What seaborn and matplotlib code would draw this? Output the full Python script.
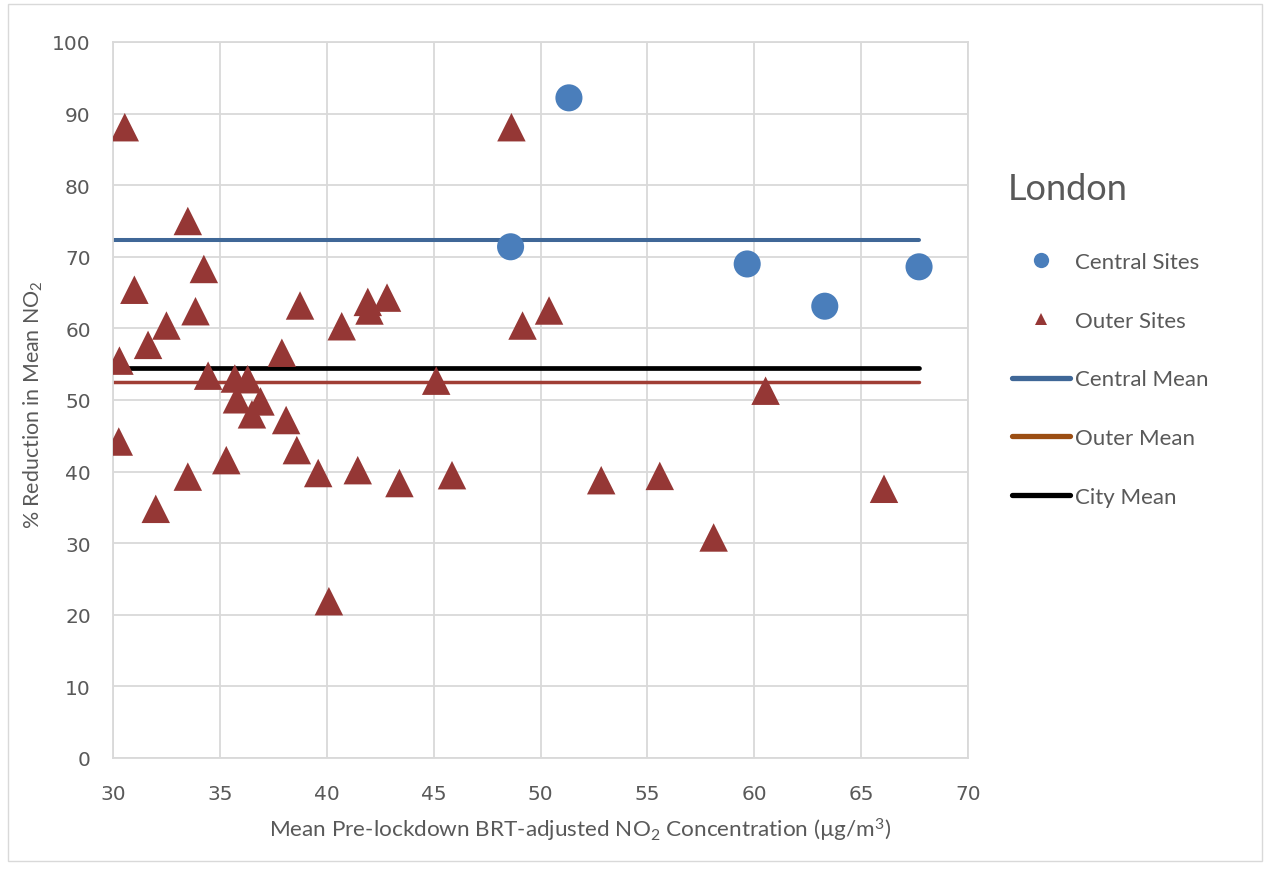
import matplotlib
matplotlib.use("Agg")
import matplotlib.pyplot as plt
import seaborn as sns
from matplotlib.lines import Line2D
from matplotlib.patches import Rectangle

# Central monitoring sites
central_x = [51.33, 48.60, 59.67, 63.30, 67.71]
central_y = [92.2, 71.4, 69.0, 63.1, 68.6]

# Outer monitoring sites
outer_x = [30.55, 48.64, 33.50, 34.25, 31.00, 33.86, 38.75, 41.92, 42.00, 42.82,
           40.70, 32.50, 49.16, 50.40, 31.64, 37.90, 30.30, 34.45, 35.70, 36.30,
           45.12, 35.80, 36.90, 36.50, 38.10, 38.60, 30.27, 35.30, 39.60, 41.45,
           43.40, 45.86, 33.50, 32.00, 40.10, 52.84, 55.58, 58.10, 60.53, 66.07]
outer_y = [88.1, 88.1, 75.0, 68.3, 65.4, 62.4, 63.2, 63.7, 62.5, 64.3,
           60.3, 60.4, 60.4, 62.5, 57.7, 56.6, 55.5, 53.4, 53.0, 52.9,
           52.7, 50.1, 49.8, 48.0, 47.2, 43.0, 44.2, 41.6, 39.8, 40.2,
           38.4, 39.5, 39.3, 34.8, 21.9, 38.8, 39.4, 30.8, 51.3, 37.6]

# Group means
central_mean = 72.4
outer_mean = 52.5
city_mean = 54.4

x_ticks = [30, 35, 40, 45, 50, 55, 60, 65, 70]
y_ticks = [0, 10, 20, 30, 40, 50, 60, 70, 80, 90, 100]

sns.set_theme(style="white")
plt.rcParams["font.family"] = ["Lato", "DejaVu Sans"]
plt.rcParams["mathtext.default"] = "regular"

text_grey = "#595959"
grid_grey = "#D9D9D9"
c_central = "#4A7EBB"
c_outer = "#953735"
c_central_mean = "#3F6797"
c_outer_mean = "#A03E35"
c_outer_mean_key = "#9B4E13"

W, H = 1264, 870
fig = plt.figure(figsize=(W / 100, H / 100), dpi=100)
fig.patch.set_facecolor("white")
ax = fig.add_axes([113 / W, 1 - 759 / H, 855 / W, 716 / H])

x_lo, x_hi = x_ticks[0], x_ticks[-1]
x_end = max(max(central_x), max(outer_x))

# Mean lines across the range of the sites
for val, col, lw in [(central_mean, c_central_mean, 2.9),
                     (outer_mean, c_outer_mean, 2.5),
                     (city_mean, "black", 3.4)]:
    sns.lineplot(x=[x_lo, x_end], y=[val, val], color=col, linewidth=lw,
                 solid_capstyle="round", ax=ax, legend=False, zorder=2)

sns.scatterplot(x=outer_x, y=outer_y, marker="^", s=420, color=c_outer,
                edgecolor="none", linewidth=0, ax=ax, legend=False, zorder=3)
sns.scatterplot(x=central_x, y=central_y, marker="o", s=380, color=c_central,
                edgecolor="none", linewidth=0, ax=ax, legend=False, zorder=3)

ax.set_xlim(x_lo, x_hi)
ax.set_ylim(y_ticks[0], y_ticks[-1])
ax.set_xticks(x_ticks)
ax.set_yticks(y_ticks)
ax.grid(True, color=grid_grey, linewidth=1.3)
ax.set_axisbelow(True)
for sp in ax.spines.values():
    sp.set_color(grid_grey)
    sp.set_linewidth(1.3)

ax.tick_params(axis="both", length=0, labelcolor=text_grey, labelsize=14.5)
ax.tick_params(axis="x", pad=19)
ax.tick_params(axis="y", pad=16)
for lab in ax.get_xticklabels() + ax.get_yticklabels():
    lab.set_family(["DejaVu Sans"])

ax.set_xlabel("Mean Pre-lockdown BRT-adjusted NO$_2$ Concentration (µg/m$^3$)",
              fontsize=16.2, color=text_grey)
ax.set_ylabel("% Reduction in Mean NO$_2$", fontsize=15.4, color=text_grey)
ax.xaxis.set_label_coords((580 - 113) / 855, (759 - 830) / 716)
ax.xaxis.label.set_va("center")
ax.yaxis.set_label_coords((33 - 113) / 855, (759 - 405) / 716)
ax.yaxis.label.set_va("center")

# Legend block: heading plus series keys
fig.text(1008 / W, 1 - 190 / H, "London", fontsize=26, color=text_grey,
         ha="left", va="center")

handles = [
    Line2D([], [], linestyle="none", marker="o", markersize=11,
           markerfacecolor=c_central, markeredgewidth=0),
    Line2D([], [], linestyle="none", marker="^", markersize=9,
           markerfacecolor=c_outer, markeredgewidth=0),
    Line2D([], [], color=c_central_mean, linewidth=3.8, solid_capstyle="round"),
    Line2D([], [], color=c_outer_mean_key, linewidth=3.8, solid_capstyle="round"),
    Line2D([], [], color="black", linewidth=3.8, solid_capstyle="round"),
]
labels = ["Central Sites", "Outer Sites", "Central Mean", "Outer Mean", "City Mean"]
leg = fig.legend(handles, labels, loc="upper left",
                 bbox_to_anchor=(1012 / W, 1 - 253 / H), frameon=False,
                 fontsize=16, labelspacing=1.74,
                 handlelength=2.6, handletextpad=0.22, borderpad=0,
                 borderaxespad=0)
for t in leg.get_texts():
    t.set_color(text_grey)

fig.patches.append(Rectangle((8 / W, 1 - 862 / H), (1262 - 8) / W, (862 - 5) / H,
                             transform=fig.transFigure, fill=False,
                             edgecolor=grid_grey, linewidth=1))

fig.savefig("out.png", dpi=100, facecolor="white")
